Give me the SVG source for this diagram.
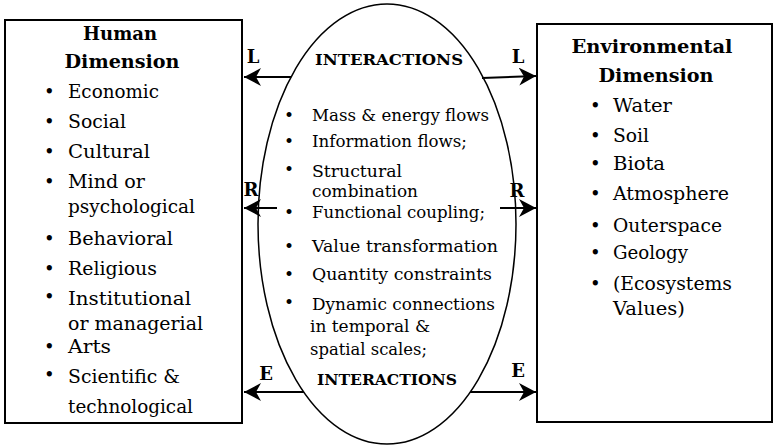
<svg xmlns="http://www.w3.org/2000/svg" width="774" height="447" viewBox="0 0 774 447" font-family="DejaVu Serif">
<defs>
<style>
text{font-family:"DejaVu Serif",serif;fill:#000}
.t{font-family:"DejaVu Serif",serif;font-size:18px;font-weight:bold}
.i{font-family:"DejaVu Serif",serif;font-size:18px}
.e{font-family:"DejaVu Serif",serif;font-size:17px}
.h{font-family:"DejaVu Serif",serif;font-size:15px;font-weight:bold}
.lb{font-family:"DejaVu Serif",serif;font-size:18px;font-weight:bold}
.box{fill:#fff;stroke:#000;stroke-width:2}
.conn{stroke:#000;stroke-width:2;fill:none;marker-end:url(#ah)}
</style>
<marker id="ah" markerUnits="userSpaceOnUse" markerWidth="20" markerHeight="20" refX="17" refY="9" orient="auto">
<path d="M17,9 L0,0 L5,9 L0,18 Z" fill="#000"/>
</marker>
</defs>
<rect width="774" height="447" fill="#fff"/>
<g id="human">
<rect class="box" x="5" y="20" width="237" height="403"/>
<text class="t" x="120" y="40" text-anchor="middle" textLength="74" lengthAdjust="spacingAndGlyphs">Human</text>
<text class="t" x="122" y="68" text-anchor="middle" textLength="115" lengthAdjust="spacingAndGlyphs">Dimension</text>
<text class="i" x="44" y="98">•</text><text class="i" x="68" y="98" textLength="91" lengthAdjust="spacingAndGlyphs">Economic</text>
<text class="i" x="44" y="128">•</text><text class="i" x="68" y="128" textLength="58" lengthAdjust="spacingAndGlyphs">Social</text>
<text class="i" x="44" y="158">•</text><text class="i" x="68" y="158" textLength="82" lengthAdjust="spacingAndGlyphs">Cultural</text>
<text class="i" x="44" y="188">•</text><text class="i" x="68" y="188" textLength="77" lengthAdjust="spacingAndGlyphs">Mind or</text>
<text class="i" x="68" y="213" textLength="127" lengthAdjust="spacingAndGlyphs">psychological</text>
<text class="i" x="44" y="245">•</text><text class="i" x="68" y="245" textLength="105" lengthAdjust="spacingAndGlyphs">Behavioral</text>
<text class="i" x="44" y="275">•</text><text class="i" x="68" y="275" textLength="89" lengthAdjust="spacingAndGlyphs">Religious</text>
<text class="i" x="44" y="303">•</text><text class="i" x="68" y="305" textLength="123" lengthAdjust="spacingAndGlyphs">Institutional</text>
<text class="i" x="68" y="330" textLength="135" lengthAdjust="spacingAndGlyphs">or managerial</text>
<text class="i" x="44" y="353">•</text><text class="i" x="68" y="353" textLength="43" lengthAdjust="spacingAndGlyphs">Arts</text>
<text class="i" x="44" y="381">•</text><text class="i" x="68" y="383" textLength="112" lengthAdjust="spacingAndGlyphs">Scientific &amp;</text>
<text class="i" x="68" y="413" textLength="125" lengthAdjust="spacingAndGlyphs">technological</text>
</g>
<g id="environment">
<rect class="box" x="537" y="24" width="235" height="398"/>
<text class="t" x="652" y="53" text-anchor="middle" textLength="161" lengthAdjust="spacingAndGlyphs">Environmental</text>
<text class="t" x="656" y="82" text-anchor="middle" textLength="115" lengthAdjust="spacingAndGlyphs">Dimension</text>
<text class="i" x="590" y="112">•</text><text class="i" x="613" y="112" textLength="59" lengthAdjust="spacingAndGlyphs">Water</text>
<text class="i" x="590" y="142">•</text><text class="i" x="613" y="142" textLength="36" lengthAdjust="spacingAndGlyphs">Soil</text>
<text class="i" x="590" y="170">•</text><text class="i" x="613" y="170" textLength="52" lengthAdjust="spacingAndGlyphs">Biota</text>
<text class="i" x="590" y="200">•</text><text class="i" x="613" y="200" textLength="116" lengthAdjust="spacingAndGlyphs">Atmosphere</text>
<text class="i" x="590" y="232">•</text><text class="i" x="613" y="232" textLength="109" lengthAdjust="spacingAndGlyphs">Outerspace</text>
<text class="i" x="590" y="259">•</text><text class="i" x="613" y="259" textLength="75" lengthAdjust="spacingAndGlyphs">Geology</text>
<text class="i" x="590" y="290">•</text><text class="i" x="613" y="290" textLength="119" lengthAdjust="spacingAndGlyphs">(Ecosystems</text>
<text class="i" x="613" y="315" textLength="72" lengthAdjust="spacingAndGlyphs">Values)</text>
</g>
<g id="interactions">
<ellipse cx="387" cy="224" rx="129" ry="220" fill="#fff" stroke="#000" stroke-width="1.5"/>
<text class="h" x="389" y="65" text-anchor="middle" textLength="148" lengthAdjust="spacingAndGlyphs">INTERACTIONS</text>
<text class="e" x="284" y="121">•</text><text class="e" x="312" y="121" textLength="177" lengthAdjust="spacingAndGlyphs">Mass &amp; energy flows</text>
<text class="e" x="284" y="147">•</text><text class="e" x="312" y="147" textLength="155" lengthAdjust="spacingAndGlyphs">Information flows;</text>
<text class="e" x="284" y="175">•</text><text class="e" x="312" y="177" textLength="90" lengthAdjust="spacingAndGlyphs">Structural</text>
<text class="e" x="312" y="197" textLength="106" lengthAdjust="spacingAndGlyphs">combination</text>
<text class="e" x="284" y="218">•</text><text class="e" x="312" y="218" textLength="173" lengthAdjust="spacingAndGlyphs">Functional coupling;</text>
<text class="e" x="284" y="252">•</text><text class="e" x="312" y="252" textLength="186" lengthAdjust="spacingAndGlyphs">Value transformation</text>
<text class="e" x="284" y="280">•</text><text class="e" x="312" y="280" textLength="180" lengthAdjust="spacingAndGlyphs">Quantity constraints</text>
<text class="e" x="284" y="308">•</text><text class="e" x="312" y="310" textLength="183" lengthAdjust="spacingAndGlyphs">Dynamic connections</text>
<text class="e" x="310" y="332" textLength="120" lengthAdjust="spacingAndGlyphs">in temporal &amp;</text>
<text class="e" x="310" y="355" textLength="117" lengthAdjust="spacingAndGlyphs">spatial scales;</text>
<text class="h" x="387" y="385" text-anchor="middle" textLength="140" lengthAdjust="spacingAndGlyphs">INTERACTIONS</text>
</g>
<g id="connectors">
<line class="conn" x1="291" y1="77" x2="244" y2="77"/>
<line class="conn" x1="482" y1="78" x2="536" y2="76"/>
<line class="conn" x1="277" y1="208" x2="244" y2="208"/>
<line class="conn" x1="500" y1="208" x2="536" y2="208"/>
<line class="conn" x1="304" y1="392" x2="244" y2="392"/>
<line class="conn" x1="470" y1="392" x2="536" y2="392"/>
<text class="lb" x="253" y="63" text-anchor="middle">L</text>
<text class="lb" x="518" y="63" text-anchor="middle">L</text>
<text class="lb" x="251" y="196" text-anchor="middle">R</text>
<text class="lb" x="517" y="197" text-anchor="middle">R</text>
<text class="lb" x="266" y="380" text-anchor="middle">E</text>
<text class="lb" x="518" y="377" text-anchor="middle">E</text>
</g>
</svg>
